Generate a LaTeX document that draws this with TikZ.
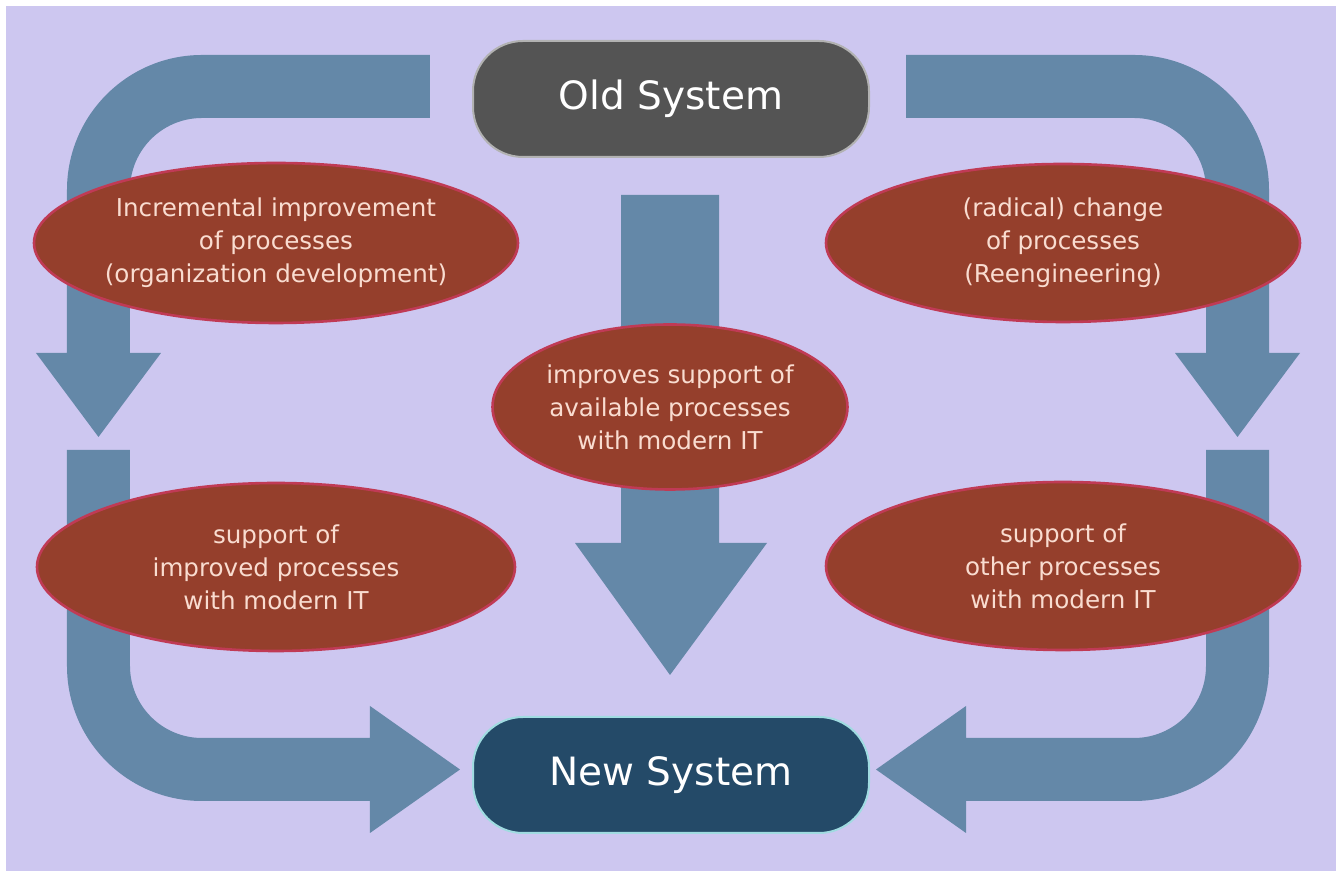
\documentclass[tikz,border=0pt]{standalone}
\usepackage{fontspec}
\setmainfont{DejaVu Sans}
\usepackage{tikz}
\usetikzlibrary{shapes.geometric,positioning}

\definecolor{bgcol}{HTML}{CDC7F0}
\definecolor{arrowcol}{HTML}{6488A8}
\definecolor{cellfill}{HTML}{953F2C}
\definecolor{celldraw}{HTML}{C03A55}
\definecolor{celltext}{HTML}{F9DCD0}
\definecolor{oldfill}{HTML}{545454}
\definecolor{newfill}{HTML}{244A68}

\begin{document}
\begin{tikzpicture}[
  x=0.5pt, y=0.5pt,
  bigarrow/.style={fill=arrowcol, draw=none},
  sysbox/.style={draw, line width=1pt, rounded corners=25pt,
    minimum width=198pt, minimum height=58pt, inner sep=0pt,
    text=white, font=\fontsize{19.5pt}{23pt}\selectfont},
  procell/.style={ellipse, fill=cellfill, draw=celldraw, line width=1.3pt,
    inner sep=0pt, align=center, text=celltext,
    font=\fontsize{12.3pt}{16.5pt}\selectfont}
]

% page and background
\useasboundingbox (-668,0) rectangle (668,871);
\fill[white] (-668,0) rectangle (668,871);
\fill[bgcol] (-662,0) rectangle (668,865);

% curved arrows on both sides
\foreach \s in {1,-1} {
\begin{scope}[xscale=\s]
\fill[bigarrow] (-238,816) -- (-466,816) arc[start angle=90,end angle=180,radius=135]
  -- (-601,518) -- (-632,518) -- (-569.5,434) -- (-507,518) -- (-538,518)
  -- (-538,681) arc[start angle=180,end angle=90,radius=72] -- (-238,753) -- cycle;
\fill[bigarrow] (-601,421) -- (-601,205) arc[start angle=180,end angle=270,radius=135]
  -- (-298,70) -- (-298,38) -- (-208,101.5) -- (-298,165) -- (-298,133)
  -- (-466,133) arc[start angle=270,end angle=180,radius=72] -- (-538,421) -- cycle;
\end{scope}
}

% middle arrow
\fill[bigarrow] (-47,676) -- (51,676) -- (51,328) -- (99,328) -- (2,196)
  -- (-93,328) -- (-47,328) -- cycle;

\node[sysbox, fill=oldfill, draw=gray!60] (old) at (3,772) {Old System};
\node[sysbox, fill=newfill, draw=newfill!50!cyan!40] (new) at (3,96) {New System};

\node[procell, minimum width=239pt, minimum height=80pt] (incr) at (-392,628)
  {Incremental improvement\\of processes\\(organization development)};
\node[procell, minimum width=237pt, minimum height=79pt] (radic) at (395,628)
  {(radical) change\\of processes\\(Reengineering)};
\node[procell, minimum width=177.5pt, minimum height=82.5pt] (avail) at (2,464)
  {improves support of\\available processes\\with modern IT};
\node[procell, minimum width=239pt, minimum height=84pt] (impr) at (-392,304)
  {support of\\improved processes\\with modern IT};
\node[procell, minimum width=237pt, minimum height=84pt] (other) at (395,305)
  {support of\\other processes\\with modern IT};

\end{tikzpicture}
\end{document}
